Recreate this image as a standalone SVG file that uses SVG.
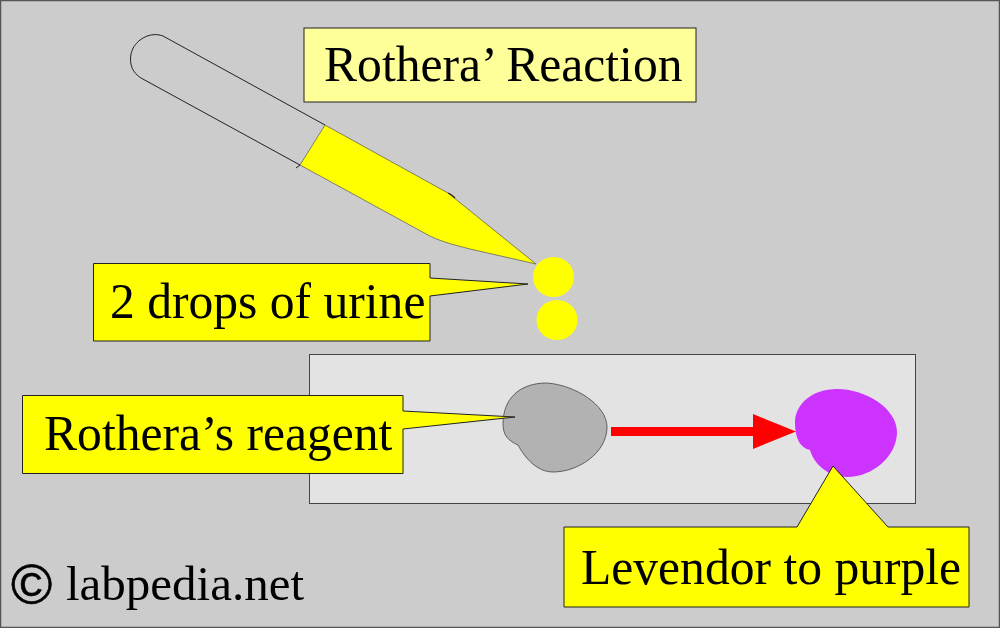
<svg xmlns="http://www.w3.org/2000/svg" width="1000" height="628" viewBox="0 0 1000 628">
<style>
text{font-family:"Liberation Serif","Times New Roman",serif;fill:#000}
.lbl{font-size:49.600px}
.call{fill:#ffff00;stroke:#222;stroke-width:1;stroke-linejoin:miter}
.ol{fill:none;stroke:#222;stroke-width:1}
</style>
<rect x="0.5" y="0.5" width="999" height="627" fill="#cccccc" stroke="#555" stroke-width="1.5"/>
<g id="slide"><rect x="309.500" y="354.500" width="606" height="149" fill="#e3e3e3" stroke="#444" stroke-width="1"/></g>
<g id="pipette">
<path class="ol" d="M325 125L163 36C150 31 134 40 131 54C129 65 133 73 141 78L300 165L296 168"/>
<path d="M325 125L448 193L536 264L470 249C450 244 437 240 428 235L300 165Z" fill="#ffff00" stroke="#555" stroke-width="0.7"/>
<path d="M448 193C451 194 453 196 455 198" fill="none" stroke="#222" stroke-width="1.2"/>
</g>
<g id="drops">
<ellipse cx="553.500" cy="277" rx="20.500" ry="20" fill="#ffff00"/>
<ellipse cx="557" cy="320" rx="20.500" ry="20" fill="#ffff00"/>
</g>
<g id="reagent-spot"><path d="M547 383C575 385 607 405 607 427C607 453 578 472 553 472C537 472 525 458 518 445C509 441 503 436 503 424C503 400 518 383 547 383Z" fill="#b2b2b2" stroke="#444" stroke-width="0.8"/></g>
<g id="purple-spot"><path d="M837 389C865 389 897 408 897 432C897 456 873 477 847 477C828 477 814 464 810 450C800 448 795 438 795 423C795 404 812 389 837 389Z" fill="#cc33ff"/></g>
<g id="connectors">
<path d="M611 431.500H753" stroke="#ff0000" stroke-width="9" fill="none"/>
<path d="M753 414L796 431.500L753 449Z" fill="#ff0000"/>
</g>
<g id="title"><rect x="304" y="28" width="392" height="74" fill="#ffff99" stroke="#222" stroke-width="1"/><text class="lbl" x="324" y="81">Rothera’ Reaction</text></g>
<g id="urine-callout"><path class="call" d="M93.500 263.500H430V278L528 284L430 296V341H93.500Z"/><text class="lbl" x="110" y="318">2 drops of urine</text></g>
<g id="reagent-callout"><path class="call" d="M22.500 395.500H403V411L515 417L403 429V473.500H22.500Z"/><text class="lbl" x="44" y="450">Rothera’s reagent</text></g>
<g id="purple-callout"><path class="call" d="M564 527H797L833 466L888 527H969V607H564Z"/><text class="lbl" x="581" y="584">Levendor to purple</text></g>
<g id="credit"><text x="11" y="604" font-size="56" stroke="#000" stroke-width="0.6" style="font-family:'Liberation Sans',Arial,sans-serif">©</text><text x="66" y="600" font-size="49">labpedia.net</text></g>
</svg>
